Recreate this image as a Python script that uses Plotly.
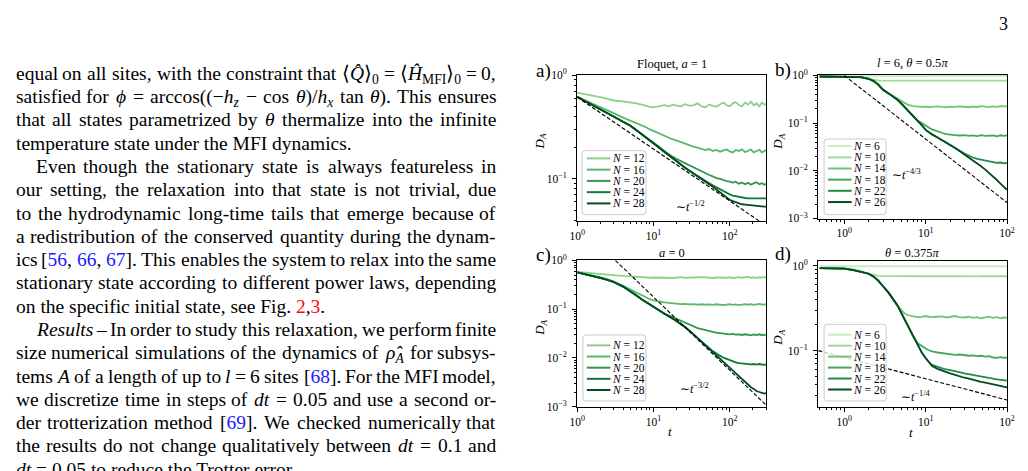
import re
import unicodedata
import plotly.graph_objects as go

FIG_W, FIG_H = 1028, 471
SERIF = "Liberation Serif, Times New Roman, serif"

# ------------------------------------------------------------------ data
# time grids (t)
T_AC = [1, 1.5, 2, 2.5, 3, 4, 5, 6, 7, 8, 9, 10, 12, 14, 16, 18, 20, 23, 26, 30,
        34, 38, 43, 48, 54, 60, 67, 75, 83, 92, 100, 110, 120, 132, 145, 160, 175,
        190, 208, 225, 245, 265, 285, 300]
T_BD = [0.5, 0.7, 1, 1.3, 1.6, 2, 2.3, 2.6, 3, 3.5, 4, 4.5, 5, 5.5, 6, 7, 8, 9, 10,
        11, 12, 14, 16, 18, 20, 23, 26, 30, 34, 38, 43, 48, 54, 60, 67, 75, 83, 92, 100]

N_AC = [12, 16, 20, 24, 28]
N_BD = [6, 10, 14, 18, 22, 26]

# panel a) Floquet, a = 1
A_N12 = [0.68, 0.645, 0.615, 0.59, 0.57, 0.56, 0.55, 0.535, 0.52, 0.505, 0.495, 0.49,
         0.505, 0.515, 0.50, 0.52, 0.51, 0.50, 0.525, 0.505, 0.515, 0.535, 0.50, 0.49,
         0.52, 0.51, 0.495, 0.525, 0.545, 0.51, 0.50, 0.535, 0.55, 0.515, 0.50, 0.545,
         0.52, 0.555, 0.51, 0.535, 0.50, 0.545, 0.52, 0.53]
A_N16 = [0.62, 0.545, 0.49, 0.455, 0.43, 0.39, 0.365, 0.345, 0.33, 0.315, 0.30, 0.29,
         0.272, 0.258, 0.248, 0.24, 0.235, 0.226, 0.218, 0.21, 0.204, 0.20, 0.196, 0.19,
         0.194, 0.186, 0.19, 0.183, 0.188, 0.192, 0.184, 0.18, 0.19, 0.186, 0.193, 0.181,
         0.187, 0.192, 0.18, 0.186, 0.191, 0.18, 0.187, 0.19]
A_N20 = [0.62, 0.53, 0.47, 0.43, 0.40, 0.355, 0.325, 0.295, 0.272, 0.253, 0.238, 0.226,
         0.203, 0.185, 0.172, 0.163, 0.156, 0.148, 0.141, 0.134, 0.128, 0.123, 0.118,
         0.114, 0.109, 0.106, 0.102, 0.10, 0.097, 0.095, 0.094, 0.092, 0.094, 0.09,
         0.092, 0.089, 0.092, 0.088, 0.091, 0.093, 0.089, 0.091, 0.088, 0.09]
A_N24 = [0.62, 0.53, 0.47, 0.43, 0.40, 0.355, 0.325, 0.295, 0.27, 0.25, 0.235, 0.222,
         0.197, 0.18, 0.167, 0.157, 0.148, 0.137, 0.128, 0.119, 0.112, 0.106, 0.101,
         0.096, 0.091, 0.087, 0.083, 0.079, 0.076, 0.073, 0.071, 0.069, 0.068, 0.067,
         0.066, 0.0655, 0.065, 0.065, 0.0648, 0.065, 0.0652, 0.0648, 0.065, 0.065]
A_N28 = [0.62, 0.53, 0.47, 0.43, 0.40, 0.355, 0.325, 0.295, 0.27, 0.25, 0.235, 0.222,
         0.197, 0.18, 0.167, 0.157, 0.148, 0.137, 0.128, 0.119, 0.112, 0.106, 0.100,
         0.095, 0.089, 0.084, 0.079, 0.074, 0.070, 0.066, 0.063, 0.061, 0.0595, 0.058,
         0.057, 0.0565, 0.056, 0.0555, 0.055, 0.0547, 0.0545, 0.0543, 0.054, 0.054]

# panel b) l = 6, theta = 0.5 pi
B_N6 = [0.96, 0.962, 0.965, 0.968, 0.97, 0.972, 0.973, 0.974, 0.975, 0.975, 0.976,
        0.975, 0.976, 0.975, 0.976, 0.975, 0.976, 0.975, 0.976, 0.975, 0.976, 0.975,
        0.976, 0.975, 0.976, 0.975, 0.976, 0.975, 0.976, 0.975, 0.976, 0.975, 0.976,
        0.975, 0.976, 0.975, 0.976, 0.975, 0.976]
B_N10 = [0.95, 0.95, 0.94, 0.93, 0.90, 0.84, 0.80, 0.785, 0.78, 0.775, 0.78, 0.775,
         0.78, 0.778, 0.775, 0.78, 0.776, 0.78, 0.775, 0.778, 0.78, 0.776, 0.78, 0.775,
         0.778, 0.78, 0.776, 0.779, 0.775, 0.78, 0.777, 0.78, 0.776, 0.779, 0.775, 0.78,
         0.777, 0.779, 0.776]
B_N14 = [0.95, 0.95, 0.94, 0.93, 0.92, 0.85, 0.76, 0.65, 0.50, 0.42, 0.37, 0.33, 0.295,
         0.265, 0.245, 0.228, 0.22, 0.218, 0.222, 0.215, 0.22, 0.225, 0.218, 0.215,
         0.222, 0.218, 0.225, 0.22, 0.215, 0.223, 0.218, 0.226, 0.22, 0.216, 0.224,
         0.219, 0.227, 0.221, 0.224]
B_N18 = [0.95, 0.95, 0.94, 0.93, 0.92, 0.85, 0.76, 0.65, 0.50, 0.42, 0.36, 0.31, 0.26,
         0.22, 0.19, 0.145, 0.112, 0.10, 0.088, 0.08, 0.074, 0.066, 0.062, 0.059, 0.057,
         0.056, 0.055, 0.056, 0.054, 0.055, 0.0535, 0.056, 0.054, 0.0545, 0.055, 0.053,
         0.0555, 0.054, 0.055]
B_N22 = [0.95, 0.95, 0.94, 0.93, 0.92, 0.85, 0.76, 0.65, 0.50, 0.42, 0.36, 0.31, 0.26,
         0.22, 0.19, 0.145, 0.112, 0.09, 0.072, 0.064, 0.058, 0.05, 0.044, 0.039, 0.035,
         0.030, 0.0265, 0.023, 0.0205, 0.019, 0.0178, 0.017, 0.0162, 0.0156, 0.0151,
         0.0146, 0.0149, 0.0143, 0.0146]
B_N26 = [0.95, 0.95, 0.94, 0.93, 0.92, 0.85, 0.76, 0.65, 0.50, 0.42, 0.36, 0.31, 0.26,
         0.22, 0.19, 0.145, 0.112, 0.09, 0.072, 0.064, 0.058, 0.05, 0.044, 0.039, 0.035,
         0.030, 0.026, 0.022, 0.019, 0.0165, 0.0142, 0.0124, 0.0106, 0.0091, 0.0077,
         0.0064, 0.0054, 0.0046, 0.0040]

# panel c) a = 0
C_N12 = [0.58, 0.555, 0.535, 0.515, 0.50, 0.48, 0.465, 0.455, 0.45, 0.445, 0.44, 0.445,
         0.44, 0.45, 0.445, 0.435, 0.445, 0.455, 0.44, 0.445, 0.435, 0.45, 0.445, 0.455,
         0.44, 0.435, 0.45, 0.445, 0.455, 0.44, 0.45, 0.435, 0.445, 0.455, 0.44, 0.45,
         0.46, 0.44, 0.45, 0.435, 0.45, 0.445, 0.455, 0.44]
C_N16 = [0.575, 0.51, 0.455, 0.41, 0.37, 0.30, 0.25, 0.215, 0.19, 0.172, 0.16, 0.152,
         0.142, 0.137, 0.134, 0.131, 0.129, 0.127, 0.128, 0.125, 0.127, 0.124, 0.126,
         0.123, 0.125, 0.122, 0.126, 0.123, 0.121, 0.124, 0.126, 0.122, 0.125, 0.121,
         0.124, 0.127, 0.123, 0.126, 0.122, 0.125, 0.128, 0.124, 0.127, 0.125]
C_N20 = [0.57, 0.50, 0.44, 0.40, 0.36, 0.29, 0.235, 0.19, 0.16, 0.14, 0.122, 0.11,
         0.093, 0.08, 0.074, 0.068, 0.063, 0.057, 0.052, 0.047, 0.044, 0.041, 0.039,
         0.037, 0.0355, 0.034, 0.033, 0.032, 0.0315, 0.031, 0.0305, 0.031, 0.030,
         0.0305, 0.0295, 0.0305, 0.030, 0.029, 0.0302, 0.0295, 0.0305, 0.0292, 0.030,
         0.0296]
C_N24 = [0.57, 0.50, 0.44, 0.40, 0.36, 0.29, 0.235, 0.19, 0.16, 0.14, 0.122, 0.11,
         0.093, 0.08, 0.071, 0.064, 0.058, 0.049, 0.043, 0.036, 0.030, 0.0255, 0.0213,
         0.018, 0.0158, 0.0138, 0.0122, 0.011, 0.0101, 0.0094, 0.0089, 0.0084, 0.0081,
         0.0078, 0.0077, 0.0075, 0.0076, 0.0074, 0.0075, 0.0073, 0.0075, 0.0074, 0.0072,
         0.0074]
C_N28 = [0.57, 0.50, 0.44, 0.40, 0.36, 0.29, 0.235, 0.19, 0.16, 0.14, 0.122, 0.11,
         0.093, 0.08, 0.071, 0.064, 0.058, 0.049, 0.043, 0.036, 0.030, 0.0255, 0.0213,
         0.018, 0.0152, 0.0129, 0.011, 0.0093, 0.008, 0.0069, 0.0061, 0.0053, 0.0047,
         0.0041, 0.0036, 0.0031, 0.0028, 0.0025, 0.0023, 0.0021, 0.002, 0.0019, 0.00185,
         0.0019]

# panel d) theta = 0.375 pi
D_N6 = [0.98, 0.981, 0.98, 0.979, 0.98, 0.981, 0.98, 0.979, 0.98, 0.981, 0.98, 0.979,
        0.98, 0.981, 0.98, 0.979, 0.98, 0.981, 0.98, 0.979, 0.98, 0.981, 0.98, 0.979,
        0.98, 0.981, 0.98, 0.979, 0.98, 0.981, 0.98, 0.979, 0.98, 0.981, 0.98, 0.979,
        0.98, 0.981, 0.98]
D_N10 = [0.93, 0.93, 0.925, 0.90, 0.86, 0.80, 0.77, 0.757, 0.75, 0.748, 0.75, 0.747,
         0.75, 0.748, 0.75, 0.747, 0.749, 0.75, 0.748, 0.75, 0.747, 0.749, 0.75, 0.748,
         0.75, 0.747, 0.749, 0.75, 0.748, 0.75, 0.747, 0.749, 0.75, 0.748, 0.75, 0.747,
         0.749, 0.75, 0.748]
D_N14 = [0.93, 0.93, 0.92, 0.88, 0.84, 0.80, 0.74, 0.67, 0.57, 0.48, 0.40, 0.34, 0.30,
         0.275, 0.262, 0.252, 0.248, 0.25, 0.255, 0.25, 0.247, 0.25, 0.253, 0.245, 0.25,
         0.255, 0.248, 0.245, 0.25, 0.243, 0.247, 0.24, 0.245, 0.25, 0.242, 0.247, 0.24,
         0.245, 0.242]
D_N18 = [0.93, 0.93, 0.92, 0.88, 0.84, 0.80, 0.74, 0.67, 0.57, 0.48, 0.40, 0.34, 0.28,
         0.235, 0.20, 0.147, 0.122, 0.112, 0.106, 0.101, 0.098, 0.095, 0.093, 0.092,
         0.091, 0.089, 0.09, 0.088, 0.087, 0.088, 0.086, 0.087, 0.085, 0.086, 0.083,
         0.082, 0.084, 0.082, 0.083]
D_N22 = [0.93, 0.93, 0.92, 0.88, 0.84, 0.80, 0.74, 0.67, 0.57, 0.48, 0.40, 0.34, 0.28,
         0.235, 0.20, 0.147, 0.114, 0.094, 0.082, 0.073, 0.068, 0.064, 0.062, 0.06,
         0.059, 0.057, 0.056, 0.054, 0.053, 0.052, 0.051, 0.050, 0.049, 0.048, 0.047,
         0.046, 0.0455, 0.045, 0.0445]
D_N26 = [0.93, 0.93, 0.92, 0.88, 0.84, 0.80, 0.74, 0.67, 0.57, 0.48, 0.40, 0.34, 0.28,
         0.235, 0.20, 0.147, 0.114, 0.094, 0.082, 0.073, 0.066, 0.061, 0.058, 0.056,
         0.054, 0.052, 0.050, 0.048, 0.047, 0.0455, 0.0445, 0.043, 0.042, 0.041, 0.040,
         0.039, 0.038, 0.0375, 0.037]

# power-law guides (endpoints)
DASH_A_T, DASH_A_D = [1, 300], [0.615, 0.0355]
DASH_B_T, DASH_B_D = [1, 100], [1.0, 0.00215]
DASH_C_T, DASH_C_D = [3.17, 300], [1.0, 0.00108]
DASH_D_T, DASH_D_D = [0.48, 100], [0.1, 0.0263]

# tick labels
X_TICKS = [1, 10, 100]
X_TICK_TEXT = ["10<sup>0</sup>", "10<sup>1</sup>", "10<sup>2</sup>"]
Y_TICKS_2 = [1, 0.1]
Y_TICK_TEXT_2 = ["10<sup>0</sup>", "10<sup>\u22121</sup>"]
Y_TICKS_4 = [1, 0.1, 0.01, 0.001]
Y_TICK_TEXT_4 = ["10<sup>0</sup>", "10<sup>\u22121</sup>", "10<sup>\u22122</sup>",
                 "10<sup>\u22123</sup>"]

TITLES = ["Floquet, <i>a</i> = 1", "<i>l</i> = 6, <i>\u03b8</i> = 0.5<i>\u03c0</i>",
          "<i>a</i> = 0", "<i>\u03b8</i> = 0.375<i>\u03c0</i>"]
PANEL_LABELS = ["a)", "b)", "c)", "d)"]
POWER_LABELS = ["\u223c<i>t</i><sup>\u22121/2</sup>", "\u223c<i>t</i><sup>\u22124/3</sup>",
                "\u223c<i>t</i><sup>\u22123/2</sup>", "\u223c<i>t</i><sup>\u22121/4</sup>"]

# colours
COLORS_AC = ["#8ed089", "#5ab869", "#30994f", "#0f7a38", "#064a20"]
COLORS_BD = ["#cbebc4", "#a1d99b", "#74c476", "#41ab5d", "#238b45", "#064a20"]

# page text (left column)
TEXT_LINES = [
    ("equal on all sites, with the constraint that \u27e8<i>Q\u0302</i>\u27e9<sub>0</sub> = "
     "\u27e8<i>\u0124</i><sub>MFI</sub>\u27e9<sub>0</sub> = 0,", 7.5, True),
    ("satisfied for <i>\u03d5</i> = arccos((\u2212<i>h<sub>z</sub></i> \u2212 cos "
     "<i>\u03b8</i>)/<i>h<sub>x</sub></i> tan <i>\u03b8</i>). This ensures", 7.5, True),
    ("that all states parametrized by <i>\u03b8</i> thermalize into the infinite", 7.5, True),
    ("temperature state under the MFI dynamics.", 7.5, False),
    ("Even though the stationary state is always featureless in", 27, True),
    ("our setting, the relaxation into that state is not trivial, due", 7.5, True),
    ("to the hydrodynamic long-time tails that emerge because of", 7.5, True),
    ("a redistribution of the conserved quantity during the dynam-", 7.5, True),
    ("ics [<span style='color:#1a1aff'>56</span>, <span style='color:#1a1aff'>66</span>, "
     "<span style='color:#1a1aff'>67</span>]. This enables the system to relax into the same",
     7.5, True),
    ("stationary state according to different power laws, depending", 7.5, True),
    ("on the specific initial state, see Fig. <span style='color:#ff0000'>2</span>,"
     "<span style='color:#ff0000'>3</span>.", 7.5, False),
    ("<i>Results</i> \u2013 In order to study this relaxation, we perform finite", 27, True),
    ("size numerical simulations of the dynamics of <i>\u03c1\u0302</i><sub><i>A</i></sub> "
     "for subsys-", 7.5, True),
    ("tems <i>A</i> of a length of up to <i>l</i> = 6 sites [<span style='color:#1a1aff'>68"
     "</span>]. For the MFI model,", 7.5, True),
    ("we discretize time in steps of <i>dt</i> = 0.05 and use a second or-", 7.5, True),
    ("der trotterization method [<span style='color:#1a1aff'>69</span>]. We checked "
     "numerically that", 7.5, True),
    ("the results do not change qualitatively between <i>dt</i> = 0.1 and", 7.5, True),
    ("<i>dt</i> = 0.05 to reduce the Trotter error.", 7.5, False),
]
PAGE_NUMBER = "3"

# ------------------------------------------------------------------ helpers
def px(x):
    return x / FIG_W


def py(y):
    return 1 - y / FIG_H


CW = {' ': 250, '!': 333, '(': 333, ')': 333, ',': 250, '-': 333, '.': 250, '/': 278,
      ':': 278, ';': 278, '=': 564, '[': 333, ']': 333, '\u2013': 500, '\u2212': 564,
      'A': 722, 'B': 667, 'C': 667, 'D': 722, 'E': 611, 'F': 556, 'G': 722, 'H': 722,
      'I': 333, 'J': 389, 'K': 722, 'L': 611, 'M': 889, 'N': 722, 'O': 722, 'P': 556,
      'Q': 722, 'R': 667, 'S': 556, 'T': 611, 'U': 722, 'V': 722, 'W': 944, 'X': 722,
      'Y': 722, 'Z': 611, 'a': 444, 'b': 500, 'c': 444, 'd': 500, 'e': 444, 'f': 333,
      'g': 500, 'h': 500, 'i': 278, 'j': 278, 'k': 500, 'l': 278, 'm': 778, 'n': 500,
      'o': 500, 'p': 500, 'q': 500, 'r': 333, 's': 389, 't': 278, 'u': 500, 'v': 500,
      'w': 722, 'x': 500, 'y': 500, 'z': 444, '\u27e8': 400, '\u27e9': 400,
      '\u03b8': 500, '\u03d5': 580, '\u03c1': 520, '\u0124': 722}
for d in "0123456789":
    CW[d] = 500


def text_width(markup, fs):
    total, depth = 0.0, 0
    for tok in re.split(r'(<[^>]+>)', markup):
        if tok.startswith('<'):
            m = re.match(r'<\s*(/?)\s*(\w+)', tok)
            if m and m.group(2).lower() in ('sub', 'sup'):
                depth += -1 if m.group(1) else 1
            continue
        for ch in tok:
            if unicodedata.combining(ch):
                continue
            total += CW.get(ch, 500) * (0.7 ** depth)
    return total / 1000.0 * fs * 1.01


def split_words(s):
    words, cur, intag = [], '', False
    for ch in s:
        if ch == '<':
            intag = True
        elif ch == '>':
            intag = False
        if ch == ' ' and not intag:
            if cur:
                words.append(cur)
            cur = ''
        else:
            cur += ch
    if cur:
        words.append(cur)
    return words


# ------------------------------------------------------------------ figure
fig = go.Figure()

PANELS = [
    dict(xa='x', ya='y', T=T_AC, S=[A_N12, A_N16, A_N20, A_N24, A_N28], C=COLORS_AC, N=N_AC,
         dt=DASH_A_T, dd=DASH_A_D, xpx=(578, 770), ypx=(69, 220), xr=[-0.002, 2.477],
         yr=[-1.41, 0.002], yt=Y_TICKS_2, ytt=Y_TICK_TEXT_2,
         leg=dict(box=(583, 648, 147, 213), rows=[155, 166.6, 178.2, 189.8, 201.4],
                  lx=(588, 612)),
         title=(674, 58), lab=(544, 65), pw=(693, 205), ylab=(541, 138), xlab=None),
    dict(xa='x2', ya='y2', T=T_BD, S=[B_N6, B_N10, B_N14, B_N18, B_N22, B_N26], C=COLORS_BD,
         N=N_BD, dt=DASH_B_T, dd=DASH_B_D, xpx=(823, 1015), ypx=(69, 217),
         xr=[-0.32, 2.002], yr=[-3.002, 0.01], yt=Y_TICKS_4, ytt=Y_TICK_TEXT_4,
         leg=dict(box=(829, 892, 135, 213), rows=[142.3, 154, 165.4, 176.9, 188.4, 200],
                  lx=(833, 857)),
         title=(919, 57), lab=(787, 64), pw=(913, 172), ylab=(783, 138), xlab=None),
    dict(xa='x3', ya='y3', T=T_AC, S=[C_N12, C_N16, C_N20, C_N24, C_N28], C=COLORS_AC, N=N_AC,
         dt=DASH_C_T, dd=DASH_C_D, xpx=(578, 770), ypx=(260, 411), xr=[-0.002, 2.477],
         yr=[-3.002, 0.002], yt=Y_TICKS_4, ytt=Y_TICK_TEXT_4,
         leg=dict(box=(584, 648, 337, 405), rows=[347.7, 359.2, 370.7, 382.2, 393.7],
                  lx=(588, 612)),
         title=(674, 252), lab=(544, 255), pw=(697, 392), ylab=(541, 330), xlab=(672, 436)),
    dict(xa='x4', ya='y4', T=T_BD, S=[D_N6, D_N10, D_N14, D_N18, D_N22, D_N26], C=COLORS_BD,
         N=N_BD, dt=DASH_D_T, dd=DASH_D_D, xpx=(823, 1015), ypx=(261, 411),
         xr=[-0.32, 2.002], yr=[-1.66, 0.05], yt=Y_TICKS_2, ytt=Y_TICK_TEXT_2,
         leg=dict(box=(829, 892, 326, 405), rows=[336.7, 348, 359.3, 370.6, 381.9, 393.2],
                  lx=(833, 857)),
         title=(919, 253), lab=(787, 254), pw=(922, 400), ylab=(783, 340), xlab=(917, 437)),
]

MINOR_X_AC = [m * 10 ** e for e in (0, 1, 2) for m in range(2, 10)]
MINOR_X_BD = [m * 10 ** e for e in (-1, 0, 1) for m in range(2, 10)]
MINOR_Y = [m * 10 ** e for e in (-4, -3, -2, -1) for m in range(2, 10)]

annotations = []
shapes = []


def rounded_rect(x0, x1, y0, y1, r=3):
    X0, X1, Yt, Yb = px(x0), px(x1), py(y0), py(y1)
    rx, ry = r / FIG_W, r / FIG_H
    return (f"M{X0 + rx},{Yt} L{X1 - rx},{Yt} Q{X1},{Yt} {X1},{Yt - ry} "
            f"L{X1},{Yb + ry} Q{X1},{Yb} {X1 - rx},{Yb} L{X0 + rx},{Yb} "
            f"Q{X0},{Yb} {X0},{Yb + ry} L{X0},{Yt - ry} Q{X0},{Yt} {X0 + rx},{Yt} Z")


def axis_common(font_size=11.5):
    return dict(type='log', showline=True, linecolor='black', linewidth=1, mirror=True,
                ticks='outside', ticklen=4, tickwidth=1, tickcolor='black',
                tickmode='array', showgrid=False, zeroline=False, fixedrange=True,
                tickfont=dict(family=SERIF, size=font_size, color='black'))


layout_axes = {}
for i, P in enumerate(PANELS):
    for D, c in zip(P['S'], P['C']):
        fig.add_trace(go.Scatter(x=P['T'], y=D, mode='lines', xaxis=P['xa'], yaxis=P['ya'],
                                 line=dict(color=c, width=1.8), showlegend=False,
                                 hoverinfo='skip'))
    fig.add_trace(go.Scatter(x=P['dt'], y=P['dd'], mode='lines', xaxis=P['xa'],
                             yaxis=P['ya'], line=dict(color='black', width=1.1,
                                                      dash='4px,2px'),
                             showlegend=False, hoverinfo='skip'))
    xkey = 'xaxis' if i == 0 else f'xaxis{i + 1}'
    ykey = 'yaxis' if i == 0 else f'yaxis{i + 1}'
    xa = axis_common()
    xa.update(domain=[px(P['xpx'][0]), px(P['xpx'][1])], range=P['xr'], anchor=P['ya'],
              tickvals=X_TICKS, ticktext=X_TICK_TEXT,
              minor=dict(ticks='outside', ticklen=2, tickwidth=1, tickcolor='black',
                         tickmode='array',
                         tickvals=MINOR_X_AC if P['T'] is T_AC else MINOR_X_BD,
                         showgrid=False))
    ya = axis_common()
    ya.update(domain=[py(P['ypx'][1]), py(P['ypx'][0])], range=P['yr'], anchor=P['xa'],
              tickvals=P['yt'], ticktext=P['ytt'], ticklabelstandoff=3,
              minor=dict(ticks='outside', ticklen=2, tickwidth=1, tickcolor='black',
                         tickmode='array', tickvals=MINOR_Y, showgrid=False))
    layout_axes[xkey] = xa
    layout_axes[ykey] = ya

    # legend (drawn as shapes + text)
    L = P['leg']
    shapes.append(dict(type='path', path=rounded_rect(*L['box']), xref='paper',
                       yref='paper', fillcolor='rgba(255,255,255,0.8)',
                       line=dict(color='#cccccc', width=1), layer='above'))
    for n, c, ry in zip(P['N'], P['C'], L['rows']):
        shapes.append(dict(type='line', xref='paper', yref='paper', x0=px(L['lx'][0]),
                           x1=px(L['lx'][1]), y0=py(ry), y1=py(ry),
                           line=dict(color=c, width=2), layer='above'))
        annotations.append(dict(text=f"<i>N</i> = {n}", x=px(L['lx'][1] + 0.5), y=py(ry),
                                xref='paper', yref='paper', xanchor='left',
                                yanchor='middle', showarrow=False, borderpad=0,
                                font=dict(family=SERIF, size=11.5, color='black')))
    # titles and labels
    annotations.append(dict(text=TITLES[i], x=px(P['title'][0]), y=py(P['title'][1]),
                            xref='paper', yref='paper', xanchor='center', yanchor='middle',
                            showarrow=False, font=dict(family=SERIF, size=12.5,
                                                       color='black')))
    annotations.append(dict(text=PANEL_LABELS[i], x=px(P['lab'][0]), y=py(P['lab'][1]),
                            xref='paper', yref='paper', xanchor='center', yanchor='middle',
                            showarrow=False, borderpad=0,
                            font=dict(family=SERIF, size=19, color='black')))
    annotations.append(dict(text=POWER_LABELS[i], x=px(P['pw'][0]), y=py(P['pw'][1]),
                            xref='paper', yref='paper', xanchor='center', yanchor='middle',
                            showarrow=False, font=dict(family=SERIF, size=12,
                                                       color='black')))
    annotations.append(dict(text="<i>D<sub>A</sub></i>", x=px(P['ylab'][0]),
                            y=py(P['ylab'][1]), xref='paper', yref='paper',
                            xanchor='center', yanchor='middle', textangle=-90,
                            showarrow=False, font=dict(family=SERIF, size=13,
                                                       color='black')))
    if P['xlab']:
        annotations.append(dict(text="<i>t</i>", x=px(P['xlab'][0]), y=py(P['xlab'][1]),
                                xref='paper', yref='paper', xanchor='center',
                                yanchor='middle', showarrow=False,
                                font=dict(family=SERIF, size=13, color='black')))

# ------------------------------------------------------------------ page text
FS = 19.5
RIGHT = 496.5
for k, (line, left, justify) in enumerate(TEXT_LINES):
    top = 55.5 + 24 * k
    if not justify:
        annotations.append(dict(text=line, x=px(left), y=py(top), xref='paper',
                                yref='paper', xanchor='left', yanchor='top',
                                showarrow=False, borderpad=0,
                                font=dict(family=SERIF, size=FS, color='black')))
        continue
    words = split_words(line)
    widths = [text_width(w, FS) for w in words]
    gap = (RIGHT - left - sum(widths)) / (len(words) - 1)
    xpos = left
    for j, (w, wd) in enumerate(zip(words, widths)):
        if j == 0:
            xa_, anc = xpos, 'left'
        elif j == len(words) - 1:
            xa_, anc = RIGHT, 'right'
        else:
            xa_, anc = xpos + wd / 2, 'center'
        annotations.append(dict(text=w, x=px(xa_), y=py(top), xref='paper', yref='paper',
                                xanchor=anc, yanchor='top', showarrow=False, borderpad=0,
                                font=dict(family=SERIF, size=FS, color='black')))
        xpos += wd + gap

annotations.append(dict(text=PAGE_NUMBER, x=px(1011), y=py(17), xref='paper', yref='paper',
                        xanchor='center', yanchor='middle', showarrow=False,
                        font=dict(family=SERIF, size=18, color='black')))

fig.update_layout(width=FIG_W, height=FIG_H, margin=dict(l=0, r=0, t=0, b=0),
                  paper_bgcolor='white', plot_bgcolor='white', showlegend=False,
                  annotations=annotations, shapes=shapes, **layout_axes)

fig.write_html("out.html")
